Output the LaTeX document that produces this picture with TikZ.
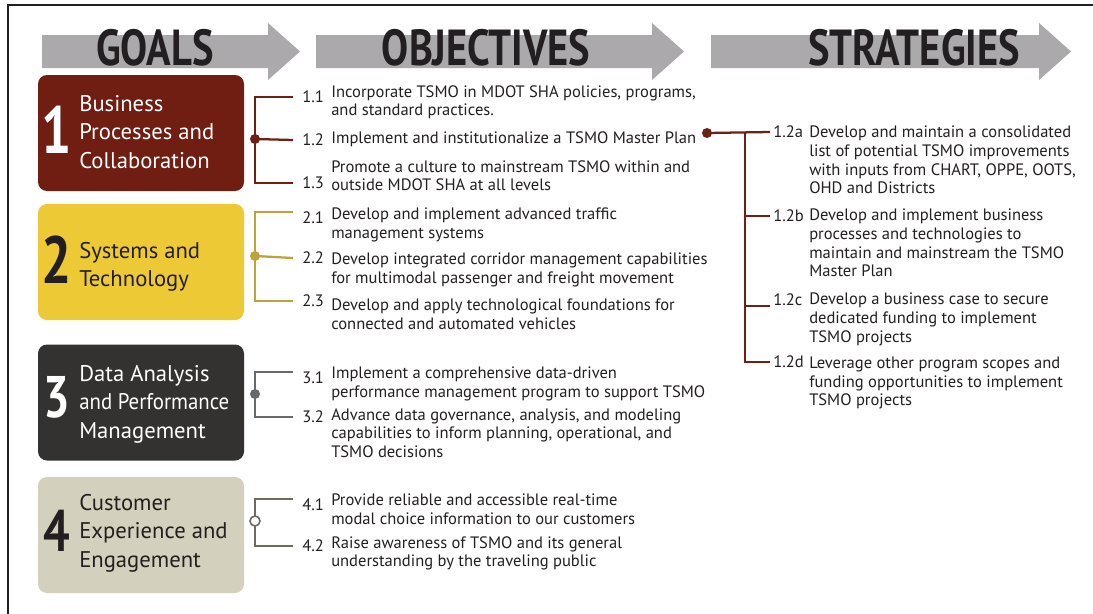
\documentclass[tikz,border=0pt]{standalone}
\usepackage{fontspec}
\setmainfont{PT Sans}
\usepackage{graphicx}
\usetikzlibrary{positioning}

\definecolor{inkgray}{RGB}{35,31,32}
\definecolor{arrowgray}{RGB}{171,169,171}
\definecolor{goalred}{RGB}{112,30,17}
\definecolor{goalyellow}{RGB}{236,201,53}
\definecolor{goaldark}{RGB}{51,50,48}
\definecolor{goalbeige}{RGB}{211,209,189}
\definecolor{brkred}{RGB}{110,32,20}
\definecolor{brkyellow}{RGB}{190,163,58}
\definecolor{brkgray}{RGB}{105,105,105}
\definecolor{brkbeige}{RGB}{111,106,91}

\newcommand{\narrow}[2][0.8]{\scalebox{#1}[1]{#2}}

\tikzset{
  goalbox/.style={rounded corners=6.75pt, minimum width=154.5pt, minimum height=87pt, inner sep=0pt},
  goalnum/.style={inner sep=0pt, font=\bfseries\fontsize{50}{50}\selectfont},
  goaltext/.style={anchor=west, align=left, inner sep=0pt, font=\fontsize{17}{21.4}\selectfont},
  hdrtext/.style={inner sep=0pt, text=inkgray, font=\bfseries\fontsize{38}{38}\selectfont},
  objnum/.style={anchor=west, inner xsep=6.75pt, inner ysep=0pt, text=inkgray, font=\fontsize{12.4}{13.9}\selectfont},
  stratnum/.style={objnum, inner xsep=2.25pt},
  objtext/.style={anchor=north west, align=left, inner sep=0pt, text=inkgray, font=\fontsize{12.4}{13.9}\selectfont},
  brk/.style={line width=1.7pt},
}

\begin{document}
\begin{tikzpicture}[x=0.75pt, y=-0.75pt]
  \useasboundingbox (0,0) rectangle (1093,614);

  % frame
  \draw[line width=1.5pt, inkgray] (8,614) -- (8,5) -- (1093,5);

  % header arrows
  \foreach \xa/\xb/\xc in {42/268/300, 316/652/684, 711/1039/1071}
    \fill[arrowgray] (\xa,35) -- (\xb,35) -- (\xb,23) -- (\xc,51.5) -- (\xb,80) -- (\xb,68) -- (\xa,68) -- cycle;
  \node[hdrtext] (hgoals) at (155,47.5) {\narrow[0.8]{GOALS}};
  \node[hdrtext] (hobj) at (486,47.5) {\narrow[0.8]{OBJECTIVES}};
  \node[hdrtext] (hstrat) at (914,47.5) {\narrow[0.8]{STRATEGIES}};

  % goal boxes
  \node[goalbox, fill=goalred] (g1) at (141,133) {};
  \node[goalbox, fill=goalyellow] (g2) at (141,262) {};
  \node[goalbox, fill=goaldark] (g3) at (141,402.5) {};
  \node[goalbox, fill=goalbeige] (g4) at (141,535) {};

  \node[goalnum, text=white] (n1) at (57,130) {\narrow{1}};
  \node[goalnum, text=inkgray] (n2) at (57,260) {\narrow{2}};
  \node[goalnum, text=white, font=\bfseries\fontsize{44}{44}\selectfont] (n3) at (57,397) {\narrow{3}};
  \node[goalnum, text=inkgray, font=\bfseries\fontsize{44}{44}\selectfont] (n4) at (57,531) {\narrow{4}};

  \node[goaltext, text=white] (l1) at (79,132) {Business\\Processes and\\Collaboration};
  \node[goaltext, text=inkgray] (l2) at (79,267) {Systems and\\Technology};
  \node[goaltext, text=white] (l3) at (79,404) {Data Analysis\\\narrow[0.92]{and Performance}\\Management};
  \node[goaltext, text=inkgray] (l4) at (79,533) {Customer\\Experience and\\Engagement};

  % objectives
  \node[objnum] (o11) at (293,97) {1.1};
  \node[objnum] (o12) at (293,140) {1.2};
  \node[objnum] (o13) at (293,183) {1.3};
  \node[objtext] (t11) at (331,85) {Incorporate TSMO in MDOT SHA policies, programs,\\and standard practices.};
  \node[objtext] (t12) at (331,131) {Implement and institutionalize a TSMO Master Plan};
  \node[objtext] (t13) at (331,160) {Promote a culture to mainstream TSMO within and\\outside MDOT SHA at all levels};

  \node[objnum] (o21) at (293,218) {2.1};
  \node[objnum] (o22) at (293,258) {2.2};
  \node[objnum] (o23) at (293,301) {2.3};
  \node[objtext] (t21) at (331,208) {Develop and implement advanced traffic\\management systems};
  \node[objtext] (t22) at (331,253) {Develop integrated corridor management capabilities\\for multimodal passenger and freight movement};
  \node[objtext] (t23) at (331,299) {Develop and apply technological foundations for\\connected and automated vehicles};

  \node[objnum] (o31) at (293,378) {3.1};
  \node[objnum] (o32) at (293,417) {3.2};
  \node[objtext] (t31) at (331,367) {Implement a comprehensive data-driven\\performance management program to support TSMO};
  \node[objtext] (t32) at (331,408) {Advance data governance, analysis, and modeling\\capabilities to inform planning, operational, and\\TSMO decisions};

  \node[objnum] (o41) at (293,505) {4.1};
  \node[objnum] (o42) at (293,546) {4.2};
  \node[objtext] (t41) at (331,494) {Provide reliable and accessible real-time\\modal choice information to our customers};
  \node[objtext] (t42) at (331,536) {Raise awareness of TSMO and its general\\understanding by the traveling public};

  % strategies
  \node[stratnum] (sa) at (770,132) {1.2a};
  \node[stratnum] (sb) at (770,216) {1.2b};
  \node[stratnum] (sc) at (770,300) {1.2c};
  \node[stratnum] (sd) at (770,362) {1.2d};
  \node[objtext] (ta) at (809,126) {Develop and maintain a consolidated\\list of potential TSMO improvements\\with inputs from CHART, OPPE, OOTS,\\OHD and Districts};
  \node[objtext] (tb) at (809,209) {Develop and implement business\\processes and technologies to\\maintain and mainstream the TSMO\\Master Plan};
  \node[objtext] (tc) at (809,293) {Develop a business case to secure\\dedicated funding to implement\\TSMO projects};
  \node[objtext] (td) at (809,357) {Leverage other program scopes and\\funding opportunities to implement\\TSMO projects};

  % brackets
  \coordinate (d1) at (255,139);
  \coordinate (d2) at (255,256);
  \coordinate (d3) at (255,394);
  \coordinate (d4) at (255,521);
  \coordinate (mp) at (707,133);
  \coordinate (sp) at (745,133);

  \draw[brk, brkred] (o11.west) -| (d1) |- (o13.west);
  \draw[brk, brkred] (d1) -- (o12.west);
  \fill[brkred] (d1) circle (3.75pt);

  \draw[brk, brkyellow] (o21.north west) -| (d2) |- (o23.west);
  \draw[brk, brkyellow] (d2) -- (o22.west);
  \fill[brkyellow] (d2) circle (3.75pt);

  \draw[brk, brkgray] (o31.north west) -| (d3) |- (o32.west);
  \fill[brkgray] (d3) circle (3.75pt);

  \draw[brk, brkbeige] (o41.north west) -| (d4) |- (o42.west);
  \draw[line width=1.2pt, brkbeige, fill=white] (d4) circle (3.75pt);

  \draw[brk, brkred] (mp) -- (sa.west);
  \draw[brk, brkred] (sp) |- (sd.west);
  \draw[brk, brkred] (sb.west -| sp) -- (sb.west);
  \draw[brk, brkred] (sc.south west -| sp) -- (sc.south west);
  \fill[brkred] (mp) circle (3.75pt);
\end{tikzpicture}
\end{document}
